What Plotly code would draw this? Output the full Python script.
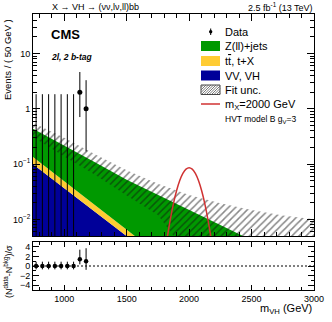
import math
import plotly.graph_objects as go
from plotly.subplots import make_subplots

# background stack (events / 50 GeV)
mass = [750, 1000, 1250, 1500, 1750, 2000, 2250, 2500, 2750, 3000]
vv_vh = [0.099, 0.0366, 0.0135, 0.0050, 0.00185, 0.00068, 0.00025, 0.000093, 0.000034, 0.0000126]
ttbar = [0.035, 0.0121, 0.0042, 0.0014, 0.00048, 0.00017, 0.00006, 0.00002, 0.000008, 0.000003]
zjets = [0.301, 0.170, 0.089, 0.0456, 0.0257, 0.0140, 0.0076, 0.0041, 0.0022, 0.0013]
fit_unc = [0.125, 0.081, 0.043, 0.025, 0.016, 0.0127, 0.0116, 0.0106, 0.0095, 0.0087]

# signal m_X = 2000 GeV
sig_mass = [1775, 1800, 1825, 1850, 1875, 1900, 1925, 1950, 1975, 2000,
            2025, 2050, 2075, 2100, 2125, 2150, 2175, 2200, 2225]
sig = [0.0007, 0.00192, 0.00467, 0.0101, 0.0195, 0.0332, 0.0504, 0.0678, 0.081, 0.086,
       0.081, 0.0678, 0.0504, 0.0332, 0.0195, 0.0101, 0.00467, 0.00192, 0.0007]

# data
bin_center = [775, 825, 875, 925, 975, 1025, 1075, 1125, 1175]
n_data = [0, 0, 0, 0, 0, 0, 0, 2, 1]
err_hi = [1.84, 1.84, 1.84, 1.84, 1.84, 1.84, 1.84, 2.64, 2.30]
err_lo = [0, 0, 0, 0, 0, 0, 0, 1.29, 0.83]

# pulls
pull = [0, 0, 0, 0, 0, 0, 0, 1.4, 1.0]
pull_hi = [0.9, 0.9, 0.9, 0.9, 0.9, 0.9, 0.9, 2.0, 2.7]
pull_lo = [0.7, 0.7, 0.7, 0.7, 0.7, 0.7, 0.7, 1.05, 1.8]

FONT = "Liberation Sans"
W, H = 332, 322
L, R, T, B = 33, 18, 14, 32
PW, PH = W - L - R, H - T - B


def px(x):
    return (x - L) / PW


def py(y):
    return (H - B - y) / PH


floor = 1e-6
tt_cum = [a + b for a, b in zip(vv_vh, ttbar)]
total = [a + b for a, b in zip(tt_cum, zjets)]
unc_up = [t + u for t, u in zip(total, fit_unc)]
unc_dn = [max(t - u, floor) for t, u in zip(total, fit_unc)]

fig = make_subplots(rows=2, cols=1, shared_xaxes=True)

fig.add_trace(go.Scatter(x=mass, y=[floor] * len(mass), mode="lines",
                         line=dict(width=0), hoverinfo="skip"), row=1, col=1)
fig.add_trace(go.Scatter(x=mass, y=vv_vh, mode="lines", fill="tonexty",
                         fillcolor="#000099", line=dict(width=0)), row=1, col=1)
fig.add_trace(go.Scatter(x=mass, y=tt_cum, mode="lines", fill="tonexty",
                         fillcolor="#ffcc33", line=dict(width=0)), row=1, col=1)
fig.add_trace(go.Scatter(x=mass, y=total, mode="lines", fill="tonexty",
                         fillcolor="#009900", line=dict(width=0)), row=1, col=1)
# fit uncertainty: closed polygon (upper edge, then lower edge backwards)
fig.add_trace(go.Scatter(x=mass + mass[::-1], y=unc_up + unc_dn[::-1], mode="lines",
                         fill="toself", fillcolor="rgba(0,0,0,0)", line=dict(width=0),
                         fillpattern=dict(shape="/", size=5, solidity=0.3,
                                          fgcolor="#111111", bgcolor="rgba(0,0,0,0)",
                                          fillmode="overlay")),
              row=1, col=1)
fig.add_trace(go.Scatter(x=sig_mass, y=sig, mode="lines", line_shape="spline",
                         line=dict(color="#d03232", width=1.5)), row=1, col=1)

y_show = [max(n, 1e-4) for n in n_data]
fig.add_trace(go.Scatter(
    x=bin_center, y=y_show, mode="markers",
    marker=dict(color="black", size=5),
    error_y=dict(type="data", symmetric=False,
                 array=[n + e - y for n, e, y in zip(n_data, err_hi, y_show)],
                 arrayminus=[e if n > 0 else 0 for n, e in zip(n_data, err_lo)],
                 color="black", thickness=1, width=0)), row=1, col=1)

fig.add_trace(go.Scatter(
    x=bin_center, y=pull, mode="markers",
    marker=dict(color="black", size=4.5),
    error_y=dict(type="data", symmetric=False, array=pull_hi, arrayminus=pull_lo,
                 color="black", thickness=1, width=0)), row=2, col=1)

fig.add_shape(type="line", xref="x2", yref="y2", x0=750, x1=3000, y0=0, y1=0,
              line=dict(color="black", width=1, dash="2px,2px"))

axis_common = dict(showline=True, linecolor="black", linewidth=1, mirror="allticks",
                   ticks="inside", tickcolor="black", showgrid=False, zeroline=False,
                   automargin=False,
                   tickfont=dict(family=FONT, size=9, color="black"))

fig.update_xaxes(range=[750, 3000], tick0=1000, dtick=500, ticklen=7,
                 minor=dict(dtick=100, ticklen=4, ticks="inside", tickcolor="black"),
                 **axis_common)
fig.update_xaxes(showticklabels=False, row=1, col=1)
fig.update_xaxes(ticklen=5, minor=dict(ticklen=3), row=2, col=1)

fig.update_yaxes(type="log", range=[math.log10(0.005), math.log10(52)],
                 domain=[py(236), 1], tickvals=[0.01, 0.1, 1, 10],
                 ticktext=["10<sup>−2</sup>", "10<sup>−1</sup>", "1", "10"], ticklen=7,
                 minor=dict(dtick="D1", ticklen=4, ticks="inside", tickcolor="black"),
                 row=1, col=1, **axis_common)
fig.update_yaxes(range=[-5, 5], domain=[0, py(242)], tickvals=[-4, -2, 0, 2, 4],
                 ticktext=["−4", "−2", "0", "2", "4"], ticklen=6,
                 minor=dict(dtick=1, ticklen=3, ticks="inside", tickcolor="black"),
                 row=2, col=1, **axis_common)

ann = []


def text(x, y, s, size, xanchor="left", angle=0, **kw):
    ann.append(dict(x=px(x), y=py(y), xref="paper", yref="paper", text=s,
                    showarrow=False, xanchor=xanchor, yanchor="middle", textangle=angle,
                    font=dict(family=FONT, size=size, color="black"), **kw))


text(50, 7, "X → VH → (νν,lν,ll)bb", 9)
text(315, 7, "2.5 fb<sup>-1</sup> (13 TeV)", 9, xanchor="right")
text(49, 34, "<b>CMS</b>", 13)
text(49, 57, "<b><i>2l, 2 b-tag</i></b>", 8.5)
text(8, 60, "Events / ( 50 GeV )", 9.5, xanchor="center", angle=-90)
text(8, 272, "(N<sup>data</sup>-N<sup>bkg</sup>)/σ", 9, xanchor="center", angle=-90)
text(314, 309, "m<sub>VH</sub> (GeV)", 11, xanchor="right")

# legend
text(223, 32, "Data", 11)
text(223, 46, "Z(ll)+jets", 11)
text(223, 61, "t<span style='text-decoration:overline'>t</span>, t+X", 11)
text(223, 75.5, "VV, VH", 11)
text(223, 90, "Fit unc.", 11)
text(223, 104.5, "m<sub>X</sub>=2000 GeV", 11)
text(223, 119, "HVT model B g<sub>V</sub>=3", 8.5)

shapes = []


def rect(x0, y0, x1, y1, color, line=None):
    shapes.append(dict(type="rect", xref="paper", yref="paper",
                       x0=px(x0), x1=px(x1), y0=py(y1), y1=py(y0), fillcolor=color,
                       line=dict(width=0) if line is None else line))


rect(201, 41, 220, 51, "#009900")
rect(201, 56, 220, 66, "#ffcc33")
rect(201, 70.5, 220, 80.5, "#000099")
rect(201, 85, 220, 94.5, "white", line=dict(color="#444", width=1))
# hatch in the swatch
x0s, x1s, y0s, y1s = 201, 220, 85, 94.5
h = y1s - y0s
c = x0s - h
path = ""
while c < x1s:
    xa, ya = c, y1s
    xb, yb = c + h, y0s
    if xa < x0s:
        ya = y1s - (x0s - xa)
        xa = x0s
    if xb > x1s:
        yb = y0s + (xb - x1s)
        xb = x1s
    path += f"M{px(xa)},{py(ya)} L{px(xb)},{py(yb)} "
    c += 2.5
shapes.append(dict(type="path", xref="paper", yref="paper", path=path,
                   line=dict(color="#555", width=0.8)))
shapes.append(dict(type="line", xref="paper", yref="paper", x0=px(201), x1=px(220),
                   y0=py(104), y1=py(104), line=dict(color="#d03232", width=1.5)))
shapes.append(dict(type="line", xref="paper", yref="paper", x0=px(210.7), x1=px(210.7),
                   y0=py(28.5), y1=py(35), line=dict(color="black", width=1)))
shapes.append(dict(type="circle", xref="paper", yref="paper", x0=px(209), x1=px(212.4),
                   y0=py(33.4), y1=py(30), fillcolor="black", line=dict(width=0)))

for s in shapes:
    fig.add_shape(**s)

fig.update_layout(width=W, height=H, margin=dict(l=L, r=R, t=T, b=B),
                  paper_bgcolor="white", plot_bgcolor="white", showlegend=False,
                  annotations=ann, font=dict(family=FONT, color="black"))

# page body has a default 8px margin; drop it so the figure fills the window
fig.write_html("out.html", config={"displayModeBar": False},
               post_script="document.body.style.margin='0';")
